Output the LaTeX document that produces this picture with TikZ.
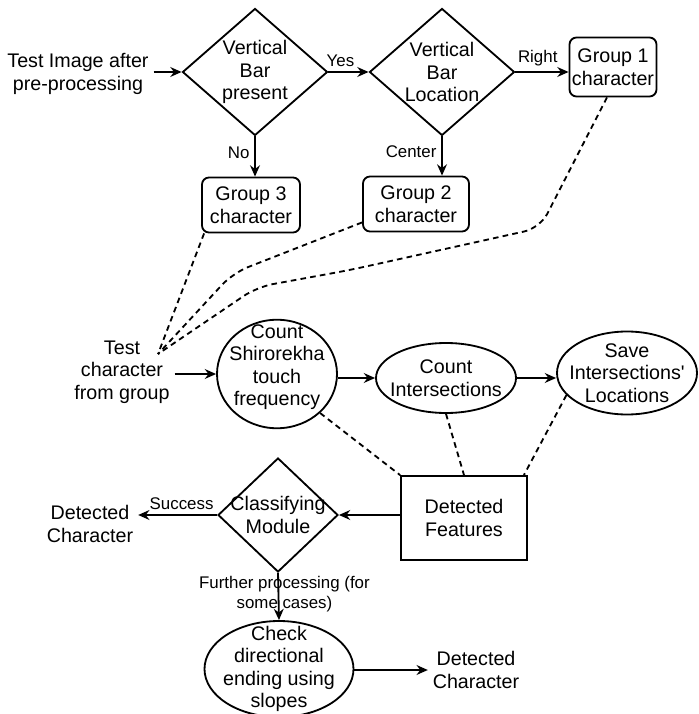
\documentclass[tikz,border=0pt]{standalone}
\usepackage{fontspec}
\setmainfont{Liberation Sans}
\newfontfamily\straightquote{Liberation Sans}
\usetikzlibrary{shapes.geometric,arrows.meta}

\begin{document}
\begin{tikzpicture}
            \tikzstyle{every node} = [font=\fontsize{14}{16}\selectfont, align=center]
            \tikzstyle{flow} = [line width=1.3pt, -{Stealth[length=8pt,width=7pt]}]
            \tikzstyle{link} = [line width=1.3pt, dash pattern=on 4pt off 3pt]
            \tikzstyle{decision} = [diamond, draw, line width=1.3pt, inner sep=-10pt]
            \tikzstyle{group} = [rectangle, draw, rounded corners=5pt, line width=1.3pt, inner sep=0pt]
            \tikzstyle{stage} = [ellipse, draw, line width=1.3pt, inner sep=-8pt]
            \tikzstyle{answer} = [font=\fontsize{12}{14}\selectfont]

            \useasboundingbox (0, 0) rectangle (17.475, -17.85);

            \node (input) at (1.95, -1.85) {Test Image after\\pre-processing};
            \node[decision, minimum width=3.625cm, minimum height=3.175cm] (barpresent)
                at (6.375, -1.8) {Vertical\\Bar\\present};
            \node[decision, minimum width=3.625cm, minimum height=3.175cm] (barlocation)
                at (11.05, -1.8) {Vertical\\Bar\\Location};
            \node[group, minimum width=2.175cm, minimum height=1.475cm] (group1)
                at (15.325, -1.675) {Group 1\\character};
            \node[group, minimum width=2.65cm, minimum height=1.375cm] (group2)
                at (10.4, -5.1) {Group 2\\character};
            \node[group, minimum width=2.45cm, minimum height=1.375cm] (group3)
                at (6.275, -5.125) {Group 3\\character};

            \node (testchar) at (3.05, -9.3) {Test\\character\\from group};
            \coordinate (hub) at (3.95, -8.85);
            \node[stage, minimum width=3.0cm, minimum height=2.7cm, text depth=0.45cm] (touch)
                at (6.925, -9.35) {Count\\Shirorekha\\touch\\frequency};
            \node[stage, minimum width=3.5cm, minimum height=1.75cm] (count)
                at (11.15, -9.45) {Count\\Intersections};
            \node[stage, minimum width=3.5cm, minimum height=2.075cm] (save)
                at (15.675, -9.325) {Save\\Intersections{\straightquote '}\\Locations};

            \node[rectangle, draw, line width=1.3pt, minimum width=3.15cm, minimum height=2.1cm] (features)
                at (11.6, -12.95) {Detected\\Features};
            \node[decision, minimum width=3.0cm, minimum height=2.85cm] (classify)
                at (6.95, -12.875) {Classifying\\Module};
            \node (result1) at (2.25, -13.1) {Detected\\Character};
            \node[stage, minimum width=3.725cm, minimum height=2.4cm] (slopes)
                at (6.975, -16.725) {Check\\directional\\ending using\\slopes};
            \node (result2) at (11.9, -16.75) {Detected\\Character};

            \draw[flow] (input.east |- barpresent.west) -- (barpresent.west);
            \draw[flow] (barpresent.east) -- (barlocation.west)
                node[answer, pos=0.3, above]{Yes};
            \draw[flow] (barlocation.east) -- (barlocation.east -| group1.west)
                node[answer, pos=0.42, above]{Right};
            \draw[flow] (barpresent.south) -- (barpresent.south |- group3.north)
                node[answer, pos=0.4, left]{No};
            \draw[flow] (barlocation.south) -- (barlocation.south |- group2.north)
                node[answer, pos=0.4, left]{Center};

            \draw[link] ([xshift=0.075cm]group3.south west) -- (hub);
            \draw[link, rounded corners=0.4cm] ([yshift=0.25cm]group2.south west)
                -- (5.825, -6.825) -- (hub);
            \draw[link, rounded corners=0.4cm] ([xshift=-0.15cm]group1.south)
                -- (13.5, -5.7) -- (8.75, -6.75) -- (6.425, -7.175) -- (hub);

            \draw[flow] (testchar.east |- touch.west) -- (touch.west);
            \draw[flow] (count.west -| touch.east) -- (count.west);
            \draw[flow] (count.east) -- (count.east -| save.west);

            \draw[link] (touch.south east) -- (features.north west);
            \draw[link] (count.south) -- (features.north);
            \draw[link] (save.200) -- ([xshift=-0.1cm]features.north east);

            \draw[flow] (classify.east -| features.west) -- (classify.east);
            \draw[flow] (classify.west) -- (classify.west -| result1.east)
                node[answer, pos=0.45, above]{Success};
            \draw[flow] (classify.south) -- (slopes.north)
                node[answer, pos=0.45, xshift=0.15cm]{Further processing (for\\some cases)};
            \draw[flow] (result2.west -| slopes.east) -- (result2.west);
        \end{tikzpicture}
\end{document}
